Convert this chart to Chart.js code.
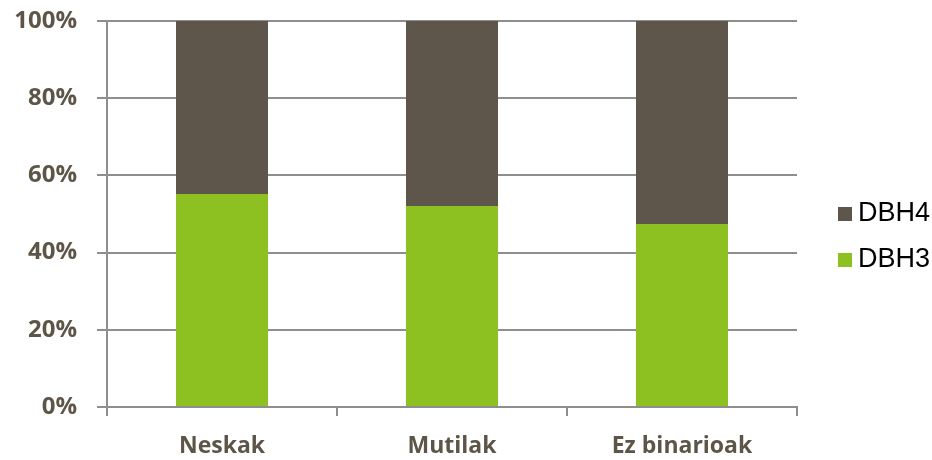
<!DOCTYPE html>
<html>
<head>
<meta charset="utf-8">
<script src="https://cdn.jsdelivr.net/npm/chart.js@4.4.0/dist/chart.umd.min.js"></script>
<style>
    html, body { margin: 0; padding: 0; background: #fff; }
    #wrap { width: 932px; height: 460px; }
</style>
</head>
<body>
<div id="wrap"><canvas id="chart" width="932" height="460"></canvas></div>
<script>
var categories = ['Neskak', 'Mutilak', 'Ez binarioak'];
var dbh3 = [55.2, 52.1, 47.4];
var dbh4 = [44.8, 47.9, 52.6];
var yTicks = [0, 20, 40, 60, 80, 100];

var labelColor = '#5e5549';
var gridColor = '#8e8e8e';

// simple legend on the right, top item = last dataset
var sideLegend = {
    id: 'sideLegend',
    afterDraw: function (chart) {
        var c = chart.ctx;
        var sets = chart.data.datasets.slice().reverse();
        var x = chart.chartArea.right + 41;
        var y0 = 214;
        c.save();
        c.font = '27px "Liberation Sans"';
        c.textBaseline = 'middle';
        c.textAlign = 'left';
        sets.forEach(function (ds, i) {
            var y = y0 + i * 46;
            c.fillStyle = ds.backgroundColor;
            c.fillRect(x, y - 7, 14, 14);
            c.fillStyle = '#000';
            c.fillText(ds.label, x + 20, y);
        });
        c.restore();
    }
};

var ctx = document.getElementById('chart').getContext('2d');
var myChart = new Chart(ctx, {
    type: 'bar',
    data: {
        labels: categories,
        datasets: [{
            label: 'DBH3',
            data: dbh3,
            backgroundColor: '#8dc021'
        }, {
            label: 'DBH4',
            data: dbh4,
            backgroundColor: '#5e554b'
        }]
    },
    plugins: [sideLegend],
    options: {
        responsive: false,
        animation: false,
        layout: {
            padding: { top: 21, right: 135, left: 14, bottom: 0 }
        },
        datasets: {
            bar: {
                barPercentage: 0.4,
                categoryPercentage: 1
            }
        },
        plugins: {
            tooltip: { enabled: false },
            legend: { display: false }
        },
        scales: {
            x: {
                stacked: true,
                afterFit: function (axis) { axis.height = 53; },
                grid: {
                    offset: true,
                    drawOnChartArea: false,
                    drawTicks: true,
                    tickLength: 9,
                    color: gridColor,
                    lineWidth: 2
                },
                border: { color: gridColor, width: 2 },
                ticks: {
                    color: labelColor,
                    padding: 17,
                    font: { family: 'Open Sans', weight: 'bold', size: 23 }
                }
            },
            y: {
                stacked: true,
                min: 0,
                max: 100,
                afterBuildTicks: function (axis) {
                    axis.ticks = yTicks.map(function (v) { return { value: v }; });
                },
                afterFit: function (axis) {
                    axis.width = 93;
                    axis.paddingTop = 0;
                    axis.paddingBottom = 0;
                },
                grid: {
                    color: gridColor,
                    lineWidth: 2,
                    tickLength: 10
                },
                border: { color: gridColor, width: 2 },
                ticks: {
                    color: labelColor,
                    padding: 20,
                    font: { family: 'Open Sans', weight: 'bold', size: 24 },
                    callback: function (v) { return v + '%'; }
                }
            }
        }
    }
});
</script>
</body>
</html>
